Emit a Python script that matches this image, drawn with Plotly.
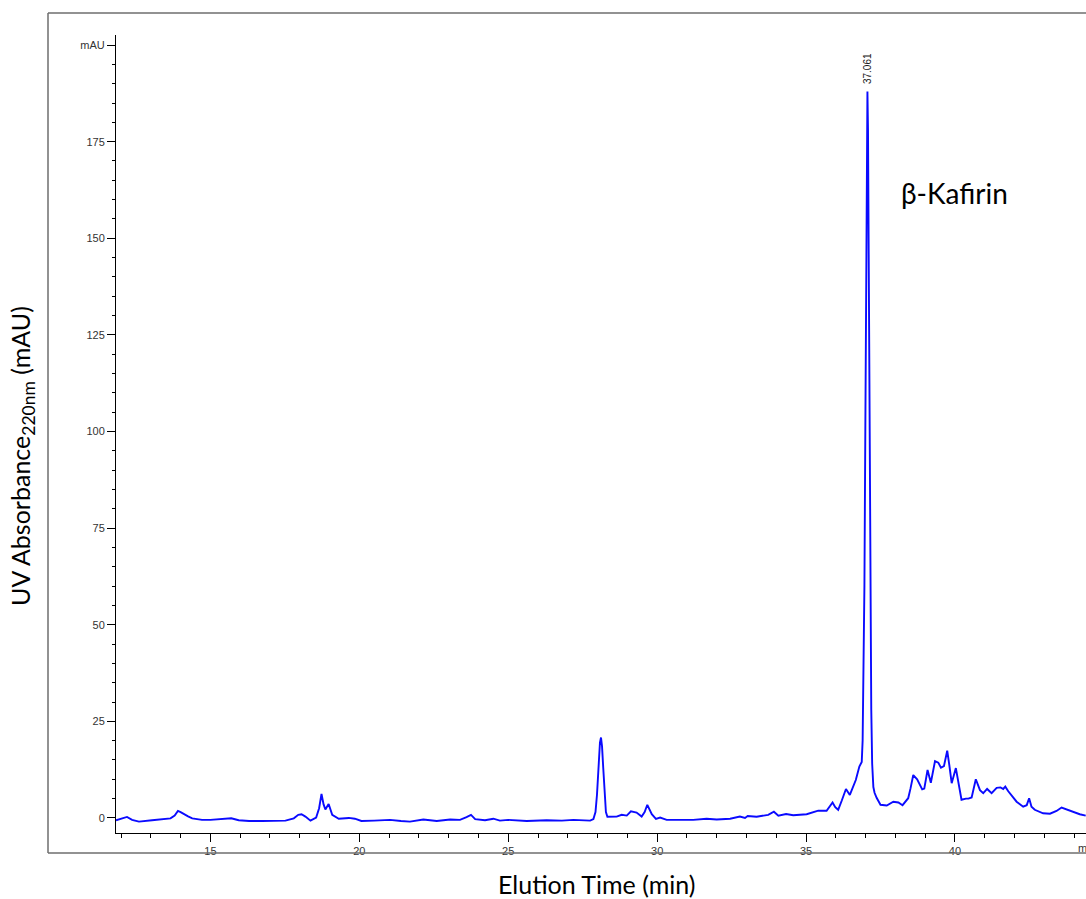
import plotly.graph_objects as go

# ---- data ----
time_min = [
    11.83, 12.00, 12.20, 12.37, 12.60, 13.04, 13.40, 13.66, 13.80, 13.91, 14.00, 14.11, 14.25, 14.39,
    14.72, 15.00, 15.28, 15.55, 15.70, 15.95, 16.30, 16.74, 17.20, 17.52, 17.80, 17.95, 18.06, 18.19,
    18.36, 18.55, 18.65, 18.73, 18.80, 18.86, 18.97, 19.09, 19.31, 19.65, 19.85, 20.07, 20.50, 21.03,
    21.40, 21.70, 22.15, 22.60, 23.05, 23.38, 23.60, 23.75, 23.89, 24.05, 24.22, 24.50, 24.72, 25.00,
    25.62, 26.29, 26.80, 27.19, 27.75, 27.86, 27.93, 27.98, 28.03, 28.08, 28.115, 28.15, 28.19, 28.23,
    28.28, 28.33, 28.45, 28.64, 28.81, 28.98, 29.12, 29.31, 29.48, 29.58, 29.67, 29.75, 29.82, 29.96,
    30.10, 30.32, 30.80, 31.21, 31.66, 32.00, 32.45, 32.78, 32.95, 33.04, 33.34, 33.73, 33.92, 34.07,
    34.33, 34.57, 35.02, 35.25, 35.41, 35.69, 35.80, 35.89, 35.98, 36.08, 36.20, 36.34, 36.47, 36.58,
    36.67, 36.79, 36.87, 36.90, 36.93, 36.96, 36.99, 37.02, 37.04, 37.061, 37.08, 37.10, 37.13, 37.16,
    37.19, 37.22, 37.26, 37.30, 37.37, 37.50, 37.71, 37.93, 38.10, 38.24, 38.43, 38.51, 38.60, 38.73,
    38.90, 38.97, 39.08, 39.19, 39.33, 39.44, 39.53, 39.63, 39.74, 39.81, 39.89, 40.03, 40.22, 40.37,
    40.45, 40.56, 40.70, 40.84, 40.95, 41.08, 41.23, 41.40, 41.53, 41.62, 41.69, 41.79, 41.96, 42.07,
    42.29, 42.41, 42.49, 42.57, 42.68, 42.96, 43.19, 43.41, 43.58, 43.75, 43.97, 44.19, 44.39,
]
absorbance_mau = [
    -0.6, -0.3, 0.25, -0.5, -0.95, -0.6, -0.4, -0.1, 0.6, 1.8, 1.5, 0.95, 0.4, -0.1,
    -0.5, -0.5, -0.4, -0.2, -0.1, -0.6, -0.8, -0.8, -0.8, -0.7, -0.1, 0.8, 0.95, 0.35,
    -0.7, 0.1, 2.5, 6.2, 3.5, 2.2, 3.6, 0.8, -0.2, 0.0, -0.2, -0.8, -0.7, -0.5,
    -0.8, -0.95, -0.4, -0.8, -0.4, -0.5, 0.2, 0.8, -0.3, -0.4, -0.6, -0.2, -0.7, -0.5,
    -0.8, -0.6, -0.7, -0.5, -0.7, -0.3, 1.5, 6.0, 13.0, 19.5, 20.8, 18.5, 13.0, 6.5,
    1.5, 0.3, 0.35, 0.35, 0.8, 0.6, 1.7, 1.4, 0.35, 1.5, 3.4, 2.0, 0.95, -0.25,
    0.1, -0.5, -0.5, -0.5, -0.2, -0.4, -0.2, 0.35, 0.0, 0.5, 0.3, 0.8, 1.6, 0.6,
    1.0, 0.7, 0.95, 1.5, 1.9, 1.85, 3.0, 4.0, 2.8, 2.1, 4.5, 7.5, 5.95, 8.0,
    9.8, 13.3, 14.5, 20.0, 35.0, 60.0, 100.0, 150.0, 178.0, 188.0, 178.0, 150.0, 100.0, 55.0,
    28.0, 14.0, 8.0, 6.5, 5.2, 3.4, 3.2, 4.2, 4.0, 3.3, 5.1, 7.7, 11.1, 10.0,
    7.4, 7.6, 12.4, 9.1, 14.7, 14.3, 13.0, 13.4, 17.4, 13.7, 9.0, 12.9, 4.7, 5.0,
    5.0, 5.3, 10.0, 7.2, 6.4, 7.5, 6.4, 7.8, 7.9, 7.5, 8.1, 6.9, 5.3, 4.2,
    2.9, 3.3, 5.1, 2.9, 2.1, 1.2, 1.1, 1.8, 2.7, 2.2, 1.6, 0.95, 0.6,
]

y_tick_vals = [0, 25, 50, 75, 100, 125, 150, 175, 200]
y_tick_text = ["0", "25", "50", "75", "100", "125", "150", "175", "mAU"]
y_minor_vals = [v for v in range(5, 200, 5) if v % 25 != 0]

peak_time = 37.061
peak_label = "37.061"
peak_name = "β-Kafirin"

W, H = 1086, 899
L, R, T, B = 116, 0, 35, 66
x_range = [11.83, 44.40]
y_range = [-3.9, 202.6]

fig = go.Figure()
fig.add_trace(go.Scatter(
    x=time_min, y=absorbance_mau, mode="lines",
    line=dict(color="#0a0aff", width=1.9),
    hoverinfo="skip", showlegend=False,
))

tick_font = dict(family="Liberation Sans, Arial, sans-serif", size=11, color="#333333")

fig.update_layout(
    width=W, height=H,
    margin=dict(l=L, r=R, t=T, b=B, pad=0),
    paper_bgcolor="white", plot_bgcolor="white",
    xaxis=dict(
        range=x_range, showgrid=False, zeroline=False,
        showline=True, linecolor="black", linewidth=1,
        ticks="outside", ticklen=8, tickwidth=1, tickcolor="black",
        tickmode="linear", tick0=0, dtick=5, tickfont=tick_font,
        minor=dict(ticks="outside", ticklen=4, tickwidth=1, tickcolor="black",
                   tickmode="linear", tick0=0, dtick=1, showgrid=False),
    ),
    yaxis=dict(
        range=y_range, showgrid=False, zeroline=False,
        showline=True, linecolor="black", linewidth=1,
        ticks="outside", ticklen=8, tickwidth=1, tickcolor="black",
        tickmode="array", tickvals=y_tick_vals, ticktext=y_tick_text, tickfont=tick_font,
        minor=dict(ticks="outside", ticklen=3, tickwidth=1, tickcolor="black",
                   tickmode="array", tickvals=y_minor_vals, showgrid=False),
    ),
)

# outer frame (gray), positioned in paper coordinates
pw, ph = W - L - R, H - T - B
fx0 = (48 - L) / pw
fy_top = (H - B - 13) / ph
fy_bot = (H - B - 853) / ph
frame = dict(type="line", xref="paper", yref="paper", line=dict(color="#6e6e6e", width=1.5))
fig.add_shape(**frame, x0=fx0, x1=fx0, y0=fy_bot, y1=fy_top)
fig.add_shape(**frame, x0=fx0, x1=1.05, y0=fy_top, y1=fy_top)
fig.add_shape(**frame, x0=fx0, x1=1.05, y0=fy_bot, y1=fy_bot)

title_font = "Lato, Open Sans, sans-serif"
# peak retention-time label
fig.add_annotation(x=peak_time, y=193.9, xref="x", yref="y", text=peak_label,
                   textangle=-90, showarrow=False, xanchor="center", yanchor="middle",
                   font=dict(family="Liberation Sans, Arial, sans-serif", size=10, color="#222222"))
# peak name
fig.add_annotation(x=(899 - L) / pw, y=(H - B - 193) / ph, xref="paper", yref="paper",
                   text=peak_name, showarrow=False, xanchor="left", yanchor="middle",
                   font=dict(family=title_font, size=28, color="black"))
# x-axis unit label at the right end (cut off by the window)
fig.add_annotation(x=(1076 - L) / pw, y=(H - B - 848) / ph, xref="paper", yref="paper",
                   text="min", showarrow=False, xanchor="left", yanchor="middle",
                   font=tick_font)
# axis titles
fig.add_annotation(x=(596 - L) / pw, y=(H - B - 884) / ph, xref="paper", yref="paper",
                   text="Elution Time (min)", showarrow=False, xanchor="center", yanchor="middle",
                   font=dict(family=title_font, size=25, color="black"))
fig.add_annotation(x=(22 - L) / pw, y=(H - B - 456) / ph, xref="paper", yref="paper",
                   text="UV Absorbance<sub>220nm</sub> (mAU)", textangle=-90, showarrow=False,
                   xanchor="center", yanchor="middle",
                   font=dict(family=title_font, size=25, color="black"))

fig.write_html("out.html")
